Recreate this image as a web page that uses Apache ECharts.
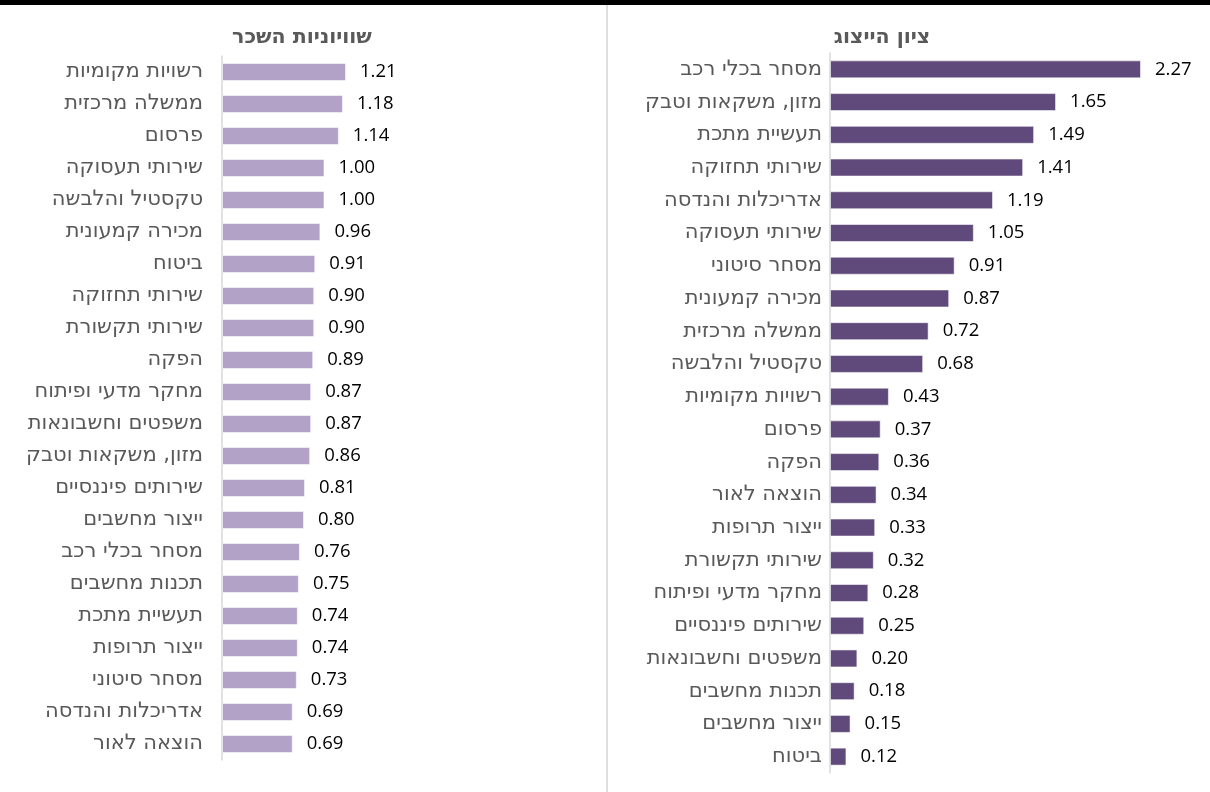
<!DOCTYPE html>
<html><head><meta charset="utf-8">
<script src="https://cdn.jsdelivr.net/npm/echarts@6/dist/echarts.min.js"></script>
<style>html,body{margin:0;padding:0;background:#fff}#c{width:1210px;height:792px}</style>
</head><body><div id="c"></div>
<script>
const leftTitle = 'שוויוניות השכר';
const leftCategories = ['רשויות מקומיות','ממשלה מרכזית','פרסום','שירותי תעסוקה','טקסטיל והלבשה','מכירה קמעונית','ביטוח','שירותי תחזוקה','שירותי תקשורת','הפקה','מחקר מדעי ופיתוח','משפטים וחשבונאות','מזון, משקאות וטבק','שירותים פיננסיים','ייצור מחשבים','מסחר בכלי רכב','תכנות מחשבים','תעשיית מתכת','ייצור תרופות','מסחר סיטוני','אדריכלות והנדסה','הוצאה לאור'];
const leftValues = [1.21,1.18,1.14,1.00,1.00,0.96,0.91,0.90,0.90,0.89,0.87,0.87,0.86,0.81,0.80,0.76,0.75,0.74,0.74,0.73,0.69,0.69];
const rightTitle = 'ציון הייצוג';
const rightCategories = ['מסחר בכלי רכב','מזון, משקאות וטבק','תעשיית מתכת','שירותי תחזוקה','אדריכלות והנדסה','שירותי תעסוקה','מסחר סיטוני','מכירה קמעונית','ממשלה מרכזית','טקסטיל והלבשה','רשויות מקומיות','פרסום','הפקה','הוצאה לאור','ייצור תרופות','שירותי תקשורת','מחקר מדעי ופיתוח','שירותים פיננסיים','משפטים וחשבונאות','תכנות מחשבים','ייצור מחשבים','ביטוח'];
const rightValues = [2.27,1.65,1.49,1.41,1.19,1.05,0.91,0.87,0.72,0.68,0.43,0.37,0.36,0.34,0.33,0.32,0.28,0.25,0.20,0.18,0.15,0.12];

const HFONT = '"DejaVu Sans", sans-serif';
const NFONT = '"Open Sans", "Liberation Sans", sans-serif';
const chart = echarts.init(document.getElementById('c'), null, {renderer:'canvas'});
function yAx(grid, cats, margin){
  return {type:'category', gridIndex:grid, data:cats, inverse:true,
    axisLine:{show:true, lineStyle:{color:'#D9D9D9', width:1.5}},
    axisTick:{show:false},
    axisLabel:{color:'#595959', fontSize:21, fontFamily:HFONT, margin:margin}};
}
function xAx(grid, max){
  return {type:'value', gridIndex:grid, min:0, max:max, show:false, splitLine:{show:false}};
}
function ser(i, vals, color){
  return {type:'bar', xAxisIndex:i, yAxisIndex:i, data:vals, barWidth:18,
    itemStyle:{color:color, borderColor:'rgba(255,255,255,0.55)', borderWidth:1},
    label:{show:true, position:'right', distance:14, color:'#000', fontSize:18.5, fontFamily:NFONT,
      formatter:p=>p.value.toFixed(2)}, silent:true, animation:false};
}
chart.setOption({
  animation:false,
  title:[
    {text:leftTitle, left:297, top:22, textAlign:'center', textStyle:{color:'#595959', fontSize:20.5, fontWeight:'bold', fontFamily:HFONT}},
    {text:rightTitle, left:877, top:22, textAlign:'center', textStyle:{color:'#595959', fontSize:20.5, fontWeight:'bold', fontFamily:HFONT}}
  ],
  grid:[
    {left:222, top:56, width:205, height:704},
    {left:830, top:53, width:342.5, height:720}
  ],
  xAxis:[xAx(0,2), xAx(1,2.5)],
  yAxis:[yAx(0,leftCategories,19), yAx(1,rightCategories,8)],
  series:[ser(0,leftValues,'#B3A2C8'), ser(1,rightValues,'#604A7B')],
  graphic:[
    {type:'rect', left:0, top:0, shape:{width:1210, height:5}, style:{fill:'#000'}},
    {type:'line', shape:{x1:607, y1:5, x2:607, y2:792}, style:{stroke:'#BFBFBF', lineWidth:1}}
  ]
});
</script></body></html>
